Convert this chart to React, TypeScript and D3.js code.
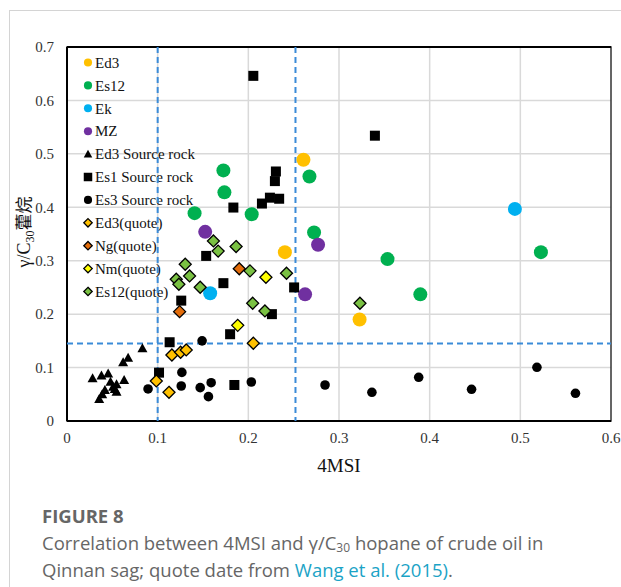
import React from 'react';
import * as d3 from 'd3';

type Pt = [number, number];

// Oil samples (circles)
const ed3Oil: Pt[] = [[0.2608, 0.489], [0.2403, 0.316], [0.3227, 0.19]];
const es12Oil: Pt[] = [
  [0.1725, 0.469], [0.1736, 0.428], [0.1407, 0.389], [0.2037, 0.387], [0.2674, 0.4575],
  [0.2725, 0.353], [0.3535, 0.303], [0.3897, 0.237], [0.5227, 0.316],
];
const ekOil: Pt[] = [[0.1579, 0.239], [0.494, 0.397]];
const mzOil: Pt[] = [[0.1524, 0.354], [0.2769, 0.33], [0.2626, 0.237]];

// Source rocks
const ed3Rock: Pt[] = [
  [0.0832, 0.136], [0.0674, 0.1186], [0.0619, 0.11], [0.0282, 0.08], [0.038, 0.085],
  [0.0454, 0.089], [0.063, 0.0768], [0.048, 0.0736], [0.0546, 0.0687], [0.0527, 0.06],
  [0.0418, 0.058], [0.0388, 0.05], [0.0355, 0.0412], [0.0546, 0.0549], [0.0509, 0.064],
];
const es1Rock: Pt[] = [
  [0.2055, 0.646], [0.3396, 0.534], [0.2304, 0.467], [0.2293, 0.449], [0.2238, 0.418],
  [0.234, 0.416], [0.215, 0.407], [0.1835, 0.3995], [0.1535, 0.309], [0.1725, 0.258],
  [0.126, 0.2253], [0.2505, 0.25], [0.226, 0.2], [0.1132, 0.1474], [0.1799, 0.1624],
  [0.1015, 0.0905], [0.1846, 0.0674],
];
const es3Rock: Pt[] = [
  [0.0894, 0.06], [0.1267, 0.091], [0.126, 0.0655], [0.149, 0.15], [0.1469, 0.0624],
  [0.159, 0.0717], [0.156, 0.0456], [0.2033, 0.073], [0.2846, 0.0674], [0.3363, 0.0537],
  [0.3879, 0.0818], [0.4462, 0.0593], [0.5183, 0.1005], [0.5608, 0.0518],
];

// Quoted data (diamonds)
const ed3Quote: Pt[] = [
  [0.0985, 0.075], [0.1125, 0.0537], [0.1157, 0.1236], [0.1253, 0.1286], [0.1315, 0.133], [0.2055, 0.1455],
];
const ngQuote: Pt[] = [[0.19, 0.285], [0.1242, 0.2047]];
const nmQuote: Pt[] = [[0.1883, 0.179], [0.2194, 0.269]];
const es12Quote: Pt[] = [
  [0.1615, 0.337], [0.1667, 0.318], [0.1865, 0.3265], [0.1304, 0.2934], [0.2018, 0.281],
  [0.1352, 0.2715], [0.1205, 0.2653], [0.1234, 0.256], [0.1469, 0.2503], [0.2421, 0.2765],
  [0.2048, 0.2204], [0.2183, 0.206], [0.3231, 0.2204],
];

const xTicks = [0, 0.1, 0.2, 0.3, 0.4, 0.5, 0.6];
const yTicks = [0, 0.1, 0.2, 0.3, 0.4, 0.5, 0.6, 0.7];
const dashX = [0.1, 0.252];
const dashY = [0.145];

const series = [
  { name: 'Ed3', data: ed3Oil, shape: 'circle', fill: '#FFC000' },
  { name: 'Es12', data: es12Oil, shape: 'circle', fill: '#00B050' },
  { name: 'Ek', data: ekOil, shape: 'circle', fill: '#00B0F0' },
  { name: 'MZ', data: mzOil, shape: 'circle', fill: '#7030A0' },
  { name: 'Ed3 Source rock', data: ed3Rock, shape: 'triangle', fill: '#000' },
  { name: 'Es1 Source rock', data: es1Rock, shape: 'square', fill: '#000' },
  { name: 'Es3 Source rock', data: es3Rock, shape: 'dot', fill: '#000' },
  { name: 'Ed3(quote)', data: ed3Quote, shape: 'diamond', fill: '#FFC000' },
  { name: 'Ng(quote)', data: ngQuote, shape: 'diamond', fill: '#E36C0A' },
  { name: 'Nm(quote)', data: nmQuote, shape: 'diamond', fill: '#FFFF00' },
  { name: 'Es12(quote)', data: es12Quote, shape: 'diamond', fill: '#7AC143' },
];

const serif = '"Liberation Serif", "Times New Roman", serif';
const sans = '"Open Sans", Lato, sans-serif';

function Marker({ shape, fill, x, y, k = 1 }: { shape: string; fill: string; x: number; y: number; k?: number }) {
  if (shape === 'circle') return <circle cx={x} cy={y} r={7 * k} fill={fill} />;
  if (shape === 'dot') return <circle cx={x} cy={y} r={4.8 * k} fill={fill} />;
  if (shape === 'square') {
    const s = 5 * k;
    return <rect x={x - s} y={y - s} width={2 * s} height={2 * s} fill={fill} />;
  }
  if (shape === 'triangle') {
    const s = 5 * k;
    return <path d={`M${x},${y - s}L${x + s},${y + s * 0.8}L${x - s},${y + s * 0.8}Z`} fill={fill} />;
  }
  const s = 6 * k;
  return (
    <path d={`M${x},${y - s}L${x + s},${y}L${x},${y + s}L${x - s},${y}Z`} fill={fill} stroke="#000" strokeWidth={1.3} />
  );
}

export default function App() {
  const left = 67, right = 611, top = 47, bottom = 421;
  const x = d3.scaleLinear().domain([0, 0.6]).range([left, right]);
  const y = d3.scaleLinear().domain([0, 0.7]).range([bottom, top]);

  return (
    <svg width={621} height={587} style={{ position: 'absolute', left: 0, top: 0, background: '#fff' }}>
      <rect x={9.5} y={10.5} width={700} height={700} fill="none" stroke="#d4d4d4" />

      {/* grid */}
      {xTicks.slice(1, -1).map((t) => (
        <line key={'gx' + t} x1={x(t)} x2={x(t)} y1={top} y2={bottom} stroke="#d9d9d9" strokeWidth={1.5} />
      ))}
      {yTicks.slice(1, -1).map((t) => (
        <line key={'gy' + t} x1={left} x2={right} y1={y(t)} y2={y(t)} stroke="#d9d9d9" strokeWidth={1.5} />
      ))}

      {/* frame */}
      <rect x={left} y={top} width={right - left} height={bottom - top} fill="none" stroke="#333" strokeWidth={1.5} />
      <line x1={left} x2={left} y1={top} y2={bottom} stroke="#000" strokeWidth={2} />
      <line x1={left} x2={right} y1={bottom} y2={bottom} stroke="#000" strokeWidth={2.2} />
      <line x1={left} x2={right} y1={top} y2={top} stroke="#000" strokeWidth={1.8} />

      {/* tick labels */}
      {xTicks.map((t) => (
        <text key={'xt' + t} x={x(t)} y={443} textAnchor="middle" fontFamily={serif} fontSize={15} fill="#333">
          {d3.format('')(t)}
        </text>
      ))}
      {yTicks.map((t) => (
        <text key={'yt' + t} x={54} y={y(t)} dy="0.35em" textAnchor="end" fontFamily={serif} fontSize={15} fill="#333">
          {d3.format('')(t)}
        </text>
      ))}

      {/* axis titles */}
      <text x={(left + right) / 2} y={472} textAnchor="middle" fontFamily={serif} fontSize={19} fill="#111">
        4MSI
      </text>
      <text transform={`translate(30,${(top + bottom) / 2 - 2}) rotate(-90)`} textAnchor="middle" fontFamily={serif} fontSize={18} fill="#111">
        γ/C<tspan fontSize={12} dy={4}>30</tspan><tspan dy={-4} fontSize={17} fontFamily='"Noto Sans CJK SC"'>藿烷</tspan>
      </text>

      {/* legend */}
      {series.map((s, i) => {
        const ly = 62.5 + i * 22.9;
        return (
          <g key={'lg' + s.name}>
            <Marker shape={s.shape} fill={s.fill} x={88} y={ly} k={s.shape === 'circle' ? 0.58 : s.shape === 'diamond' ? 0.7 : 0.85} />
            <text x={95} y={ly} dy="0.35em" fontFamily={serif} fontSize={15} fill="#111">
              {s.name}
            </text>
          </g>
        );
      })}

      {/* reference lines */}
      {dashX.map((v) => (
        <line key={'dx' + v} x1={x(v)} x2={x(v)} y1={top} y2={bottom} stroke="#3A8BD8" strokeWidth={2} strokeDasharray="6,4" />
      ))}
      {dashY.map((v) => (
        <line key={'dy' + v} x1={left} x2={right} y1={y(v)} y2={y(v)} stroke="#3A8BD8" strokeWidth={2} strokeDasharray="6,4" />
      ))}

      {/* points */}
      {series.map((s) => (
        <g key={'s' + s.name}>
          {s.data.map((d, j) => (
            <Marker key={j} shape={s.shape} fill={s.fill} x={x(d[0])} y={y(d[1])} />
          ))}
        </g>
      ))}

      {/* caption */}
      <text x={42} y={523} fontFamily={sans} fontWeight={700} fontSize={18.5} fill="#666">
        FIGURE 8
      </text>
      <text x={42} y={550} fontFamily={sans} fontSize={18.5} fill="#666">
        Correlation between 4MSI and γ/C<tspan fontSize={12} dy={2}>30</tspan><tspan dy={-2}> hopane of crude oil in</tspan>
      </text>
      <text x={42} y={577} fontFamily={sans} fontSize={18.5} fill="#666">
        Qinnan sag; quote date from <tspan fill="#1BA3C6">Wang et al. (2015)</tspan>.
      </text>
    </svg>
  );
}
